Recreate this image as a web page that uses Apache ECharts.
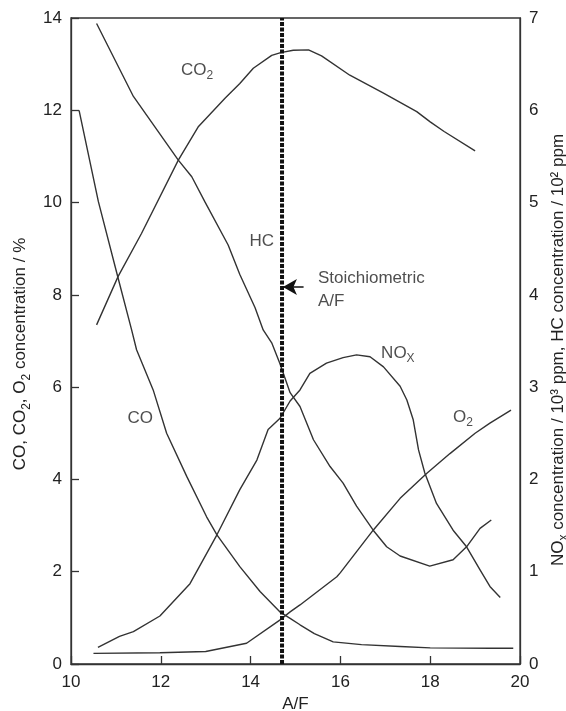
<!DOCTYPE html>
<html>
<head>
<meta charset="utf-8">
<script src="https://cdn.jsdelivr.net/npm/echarts@6/dist/echarts.min.js"></script>
<style>
html,body{margin:0;padding:0;background:#fff;}
#chart{width:566px;height:711px;}
</style>
</head>
<body>
<div id="chart"></div>
<script>
// ---- data (A/F ratio on x) ----
const xTicks = [10, 12, 14, 16, 18, 20];

// CO, % (left axis)
const coX = [10.18, 10.61, 11.05, 11.35, 11.46, 11.83, 12.13, 12.58, 13.02, 13.25, 13.76, 14.21, 14.65, 14.88, 15.10, 15.42, 15.84, 16.47, 17.33, 18.0, 19.33, 19.85];
const coY = [12.0, 10.02, 8.36, 7.24, 6.81, 5.94, 5.00, 4.06, 3.19, 2.80, 2.11, 1.57, 1.13, 0.99, 0.85, 0.66, 0.48, 0.42, 0.38, 0.35, 0.34, 0.34];

// CO2, % (left axis)
const co2X = [10.57, 11.05, 11.57, 12.39, 12.84, 13.43, 13.76, 14.06, 14.47, 14.67, 14.95, 15.29, 15.58, 16.21, 16.96, 17.70, 18.0, 18.31, 19.0];
const co2Y = [7.35, 8.40, 9.33, 10.92, 11.65, 12.26, 12.58, 12.91, 13.19, 13.25, 13.30, 13.31, 13.18, 12.76, 12.37, 11.97, 11.75, 11.54, 11.12];

// O2, % (left axis)
const o2X = [10.50, 11.98, 13.0, 13.91, 14.65, 14.88, 15.10, 15.92, 16.0, 16.73, 17.33, 17.92, 18.44, 19.0, 19.33, 19.80];
const o2Y = [0.23, 0.245, 0.27, 0.45, 0.95, 1.13, 1.28, 1.89, 1.98, 2.90, 3.59, 4.13, 4.56, 5.0, 5.22, 5.50];

// HC, 10^2 ppm (right axis)
const hcX = [10.57, 11.39, 12.39, 12.69, 12.98, 13.50, 13.76, 14.10, 14.28, 14.47, 14.65, 14.88, 15.10, 15.40, 15.77, 16.06, 16.36, 16.73, 17.03, 17.33, 17.99, 18.51, 18.81, 19.11, 19.36];
const hcY = [6.94, 6.15, 5.46, 5.28, 5.01, 4.54, 4.22, 3.86, 3.62, 3.48, 3.26, 2.94, 2.79, 2.43, 2.14, 1.96, 1.71, 1.45, 1.27, 1.17, 1.06, 1.13, 1.27, 1.47, 1.56];

// NOx, 10^3 ppm (right axis)
const noxX = [10.60, 11.08, 11.39, 11.98, 12.65, 13.25, 13.76, 14.14, 14.39, 14.65, 14.88, 15.10, 15.32, 15.69, 16.06, 16.36, 16.66, 16.96, 17.33, 17.48, 17.62, 17.74, 17.88, 18.14, 18.51, 18.81, 19.11, 19.33, 19.56];
const noxY = [0.18, 0.30, 0.35, 0.52, 0.87, 1.40, 1.89, 2.21, 2.54, 2.66, 2.85, 2.97, 3.15, 3.26, 3.32, 3.35, 3.33, 3.22, 3.01, 2.86, 2.65, 2.32, 2.07, 1.74, 1.45, 1.27, 1.02, 0.84, 0.72];

// stoichiometric A/F
const stoichAF = 14.7;

// curve labels (text, A/F, left-axis %)
const labelText = ['CO{s|2}', 'HC', 'CO', 'NO{s|X}', 'O{s|2}'];
const labelX = [12.81, 14.25, 11.54, 17.28, 18.73];
const labelY = [12.87, 9.17, 5.33, 6.74, 5.35];

const pairs = (xs, ys) => xs.map((x, i) => [x, ys[i]]);

const FONT = 'Liberation Sans, Arial, Helvetica, sans-serif';
const INK = '#222';
const LINE = '#333';

const chart = echarts.init(document.getElementById('chart'), null, {renderer: 'canvas'});

const curveStyle = {color: LINE, width: 1.4};
function curve(name, xs, ys, yAxisIndex) {
  return {
    name, type: 'line', yAxisIndex, data: pairs(xs, ys),
    showSymbol: false, symbol: 'none', smooth: false,
    lineStyle: curveStyle, silent: true, z: 3
  };
}

const titleRich = {
  s: {fontSize: 12, fontFamily: FONT, color: INK, verticalAlign: 'bottom', lineHeight: 12},
  n: {fontSize: 17, fontFamily: FONT, color: INK, lineHeight: 24}
};

chart.setOption({
  animation: false,
  backgroundColor: '#fff',
  grid: {left: 71, right: 46, top: 18, bottom: 47, containLabel: false, outerBoundsMode: 'none',
    show: true, borderColor: LINE, borderWidth: 1.3, backgroundColor: 'transparent'},
  xAxis: {
    type: 'value', min: 10, max: 20, interval: 2,
    name: 'A/F', nameLocation: 'middle', nameGap: 28,
    nameTextStyle: {fontSize: 17, fontFamily: FONT, color: INK, verticalAlign: 'top'},
    axisLine: {show: true, lineStyle: {color: LINE, width: 1.3}},
    axisTick: {show: true, inside: true, length: 8, lineStyle: {color: LINE, width: 1.3}},
    axisLabel: {fontSize: 17, fontFamily: FONT, color: INK, margin: 10,
      formatter: v => xTicks.includes(v) ? String(v) : ''},
    splitLine: {show: false}
  },
  yAxis: [{
    type: 'value', min: 0, max: 14, interval: 2, position: 'left',
    name: '{n|CO, CO}{s|2}{n|, O}{s|2}{n| concentration / %}',
    nameLocation: 'middle', nameGap: 36, nameRotate: 90,
    nameTextStyle: {fontSize: 17, fontFamily: FONT, color: INK, rich: titleRich, padding: [0, 26, 0, 0]},
    axisLine: {show: true, lineStyle: {color: LINE, width: 1.3}},
    axisTick: {show: true, inside: true, length: 8, lineStyle: {color: LINE, width: 1.3}},
    axisLabel: {fontSize: 17, fontFamily: FONT, color: INK, margin: 9},
    splitLine: {show: false}
  }, {
    type: 'value', min: 0, max: 7, interval: 1, position: 'right',
    name: '{n|NO}{s|x}{n| concentration / 10³ ppm, HC concentration / 10² ppm}',
    nameLocation: 'middle', nameGap: 21, nameRotate: 90,
    nameTextStyle: {fontSize: 17, fontFamily: FONT, color: INK, rich: titleRich, padding: [0, 18, 0, 0]},
    axisLine: {show: true, lineStyle: {color: LINE, width: 1.3}},
    axisTick: {show: false},
    axisLabel: {fontSize: 17, fontFamily: FONT, color: INK, margin: 9},
    splitLine: {show: false}
  }],
  series: [
    curve('CO', coX, coY, 0),
    curve('CO2', co2X, co2Y, 0),
    curve('O2', o2X, o2Y, 0),
    curve('HC', hcX, hcY, 1),
    curve('NOx', noxX, noxY, 1),
    {
      name: 'stoich', type: 'line', yAxisIndex: 0,
      data: [[stoichAF, 0], [stoichAF, 14]],
      showSymbol: false, symbol: 'none', silent: true, z: 4,
      lineStyle: {color: '#111', width: 4, type: [4, 1.5]},
      markLine: {
        silent: true, animation: false,
        symbol: ['none', 'arrow'], symbolSize: [12, 14],
        lineStyle: {color: '#111', width: 1.5, type: 'solid'},
        label: {show: false},
        data: [[{coord: [15.18, 8.17]}, {coord: [stoichAF + 0.02, 8.17]}]]
      }
    },
    {
      name: 'labels', type: 'scatter', yAxisIndex: 0, symbolSize: 0, silent: true, z: 5,
      data: labelX.map((x, i) => ({value: [x, labelY[i]], text: labelText[i]})),
      label: {
        show: true, position: 'inside',
        formatter: p => p.data.text,
        fontSize: 17, fontFamily: FONT, color: INK, lineHeight: 24,
        rich: {
          s: {fontSize: 12, fontFamily: FONT, color: INK, verticalAlign: 'bottom', lineHeight: 12}
        }
      }
    },
    {
      name: 'stoichText', type: 'scatter', yAxisIndex: 0, symbolSize: 0, silent: true, z: 5,
      data: [{value: [15.5, 8.12]}],
      label: {
        show: true, position: 'right', distance: 0,
        formatter: 'Stoichiometric\nA/F', lineHeight: 23,
        fontSize: 17, fontFamily: FONT, color: INK, align: 'left'
      }
    }
  ]
});
</script>
</body>
</html>
